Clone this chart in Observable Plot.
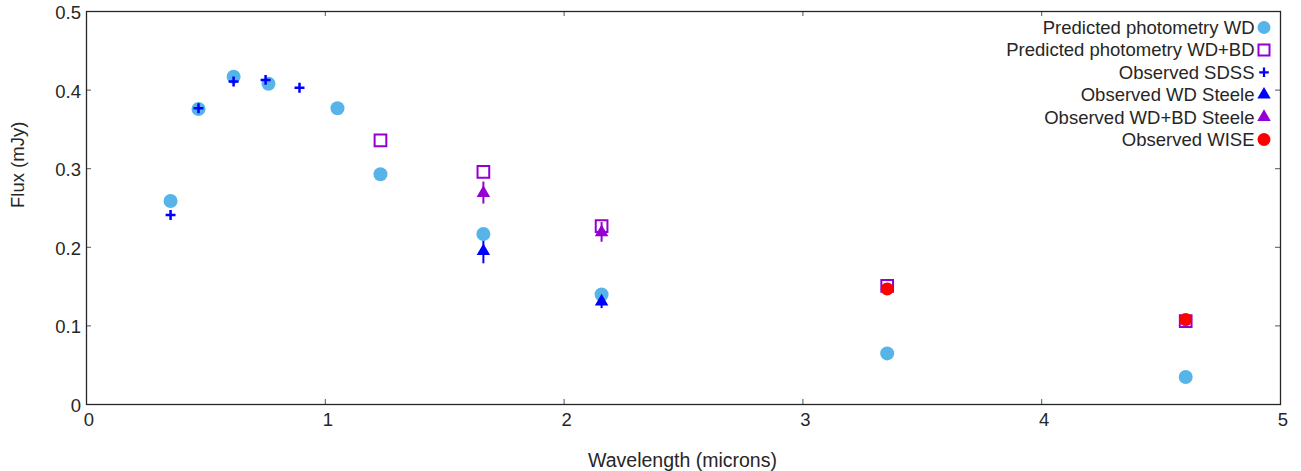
<!DOCTYPE html>
<html>
<head>
<meta charset="utf-8">
<script src="https://cdn.jsdelivr.net/npm/d3@7"></script>
<script src="https://cdn.jsdelivr.net/npm/@observablehq/plot@0.6"></script>
<style>
  html, body { margin: 0; padding: 0; background: #fff; }
  #chart { width: 1301px; height: 471px; }
</style>
</head>
<body>
<div id="chart"></div>
<script>
// ---- Data ----
const predWD_x   = [0.352, 0.469, 0.616, 0.762, 1.051, 1.231, 1.662, 2.157, 3.353, 4.603];
const predWD_y   = [0.259, 0.376, 0.417, 0.408, 0.377, 0.293, 0.217, 0.140, 0.065, 0.035];

const predWDBD_x = [1.231, 1.662, 2.157, 3.353, 4.603];
const predWDBD_y = [0.336, 0.296, 0.227, 0.151, 0.106];

const sdss_x     = [0.352, 0.469, 0.616, 0.750, 0.892];
const sdss_y     = [0.241, 0.377, 0.411, 0.413, 0.403];

const steeleWD_x   = [1.662, 2.157];
const steeleWD_y   = [0.195, 0.131];
const steeleWD_err = [0.016, 0.009];

const steeleWDBD_x   = [1.662, 2.157];
const steeleWDBD_y   = [0.269, 0.219];
const steeleWDBD_err = [0.014, 0.0125];

const wise_x     = [3.353, 4.603];
const wise_y     = [0.147, 0.108];

const xTicks = [0, 1, 2, 3, 4, 5];
const yTicks = [0, 0.1, 0.2, 0.3, 0.4, 0.5];

const legendLabels = [
  "Predicted photometry WD",
  "Predicted photometry WD+BD",
  "Observed SDSS",
  "Observed WD Steele",
  "Observed WD+BD Steele",
  "Observed WISE"
];

const xLabel = "Wavelength (microns)";
const yLabel = "Flux (mJy)";

// ---- Styles ----
const C_LIGHT = "#56B4E9";
const C_PURPLE = "#9400D3";
const C_BLUE = "#0000FF";
const C_RED = "#FF0000";
const INK = "#262626";

const zip = (xs, ys, es) => xs.map((x, i) => ({x, y: ys[i], e: es ? es[i] : 0}));
const predWD = zip(predWD_x, predWD_y);
const predWDBD = zip(predWDBD_x, predWDBD_y);
const sdss = zip(sdss_x, sdss_y);
const steeleWD = zip(steeleWD_x, steeleWD_y, steeleWD_err);
const steeleWDBD = zip(steeleWDBD_x, steeleWDBD_y, steeleWDBD_err);
const wise = zip(wise_x, wise_y);

const W = 1301, H = 471;
const mL = 86, mR = 21, mT = 11, mB = 67;
const plotW = W - mL - mR, plotH = H - mT - mB;
const TICK = 5;

// legend
const legendStyles = [
  {symbol: "circle", fill: C_LIGHT, r: 6.5},
  {symbol: "square", fill: "none", stroke: C_PURPLE, strokeWidth: 2, r: 6.2},
  {symbol: "plus", fill: "none", stroke: C_BLUE, strokeWidth: 2.3, r: 3.2},
  {symbol: "triangle", fill: C_BLUE, r: 5},
  {symbol: "triangle", fill: C_PURPLE, r: 5},
  {symbol: "circle", fill: C_RED, r: 6.5}
];
const legendMarks = [];
legendLabels.forEach((lab, i) => {
  const dy = 16.5 + i * 22.4;
  legendMarks.push(Plot.text([lab], {
    frameAnchor: "top-right", text: d => d, dx: -26, dy,
    textAnchor: "end", lineAnchor: "middle", fill: INK, fontSize: 18.5
  }));
  legendMarks.push(Plot.dot([lab], {
    frameAnchor: "top-right", dx: -16.5, dy: dy - 0.5, ...legendStyles[i]
  }));
});

const chart = Plot.plot({
  width: W, height: H,
  marginLeft: mL, marginRight: mR, marginTop: mT, marginBottom: mB,
  style: {fontFamily: "'Liberation Sans', Arial, sans-serif", fontSize: "18px", background: "#fff", color: INK},
  x: {domain: [0, 5]},
  y: {domain: [0, 0.5]},
  marks: [
    // axes labels (ticks drawn inward separately)
    Plot.axisX(xTicks, {tickSize: 0, tickPadding: 8, fontSize: 18.5, label: null, fill: INK, dx: 2.5, tickFormat: d => String(d)}),
    Plot.axisY(yTicks, {tickSize: 0, tickPadding: 5.5, fontSize: 18.5, label: null, fill: INK, dy: 1.5, tickFormat: d => String(d)}),
    // inward ticks on all four sides
    Plot.tickX(xTicks, {x: d => d, insetTop: plotH - TICK, stroke: "#555", strokeWidth: 1}),
    Plot.tickX(xTicks, {x: d => d, insetBottom: plotH - TICK, stroke: "#555", strokeWidth: 1}),
    Plot.tickY(yTicks, {y: d => d, insetLeft: plotW - TICK, stroke: "#555", strokeWidth: 1}),
    Plot.tickY(yTicks, {y: d => d, insetRight: plotW - TICK, stroke: "#555", strokeWidth: 1}),
    // error bars
    Plot.ruleX(steeleWD, {x: "x", y1: d => d.y - d.e, y2: d => d.y + d.e, stroke: C_BLUE, strokeWidth: 2}),
    Plot.ruleX(steeleWDBD, {x: "x", y1: d => d.y - d.e, y2: d => d.y + d.e, stroke: C_PURPLE, strokeWidth: 2}),
    // data
    Plot.dot(predWD, {x: "x", y: "y", r: 7, fill: C_LIGHT}),
    Plot.dot(predWDBD, {x: "x", y: "y", r: 6.6, symbol: "square", fill: "none", stroke: C_PURPLE, strokeWidth: 2}),
    Plot.dot(sdss, {x: "x", y: "y", r: 3.3, symbol: "plus", stroke: C_BLUE, strokeWidth: 2.5}),
    Plot.dot(steeleWD, {x: "x", y: "y", r: 5, symbol: "triangle", fill: C_BLUE}),
    Plot.dot(steeleWDBD, {x: "x", y: "y", r: 5, symbol: "triangle", fill: C_PURPLE}),
    Plot.dot(wise, {x: "x", y: "y", r: 6.5, fill: C_RED}),
    // frame
    Plot.frame({stroke: INK, strokeWidth: 1.3}),
    // axis titles
    Plot.text([xLabel], {frameAnchor: "bottom", text: d => d, dy: 56, dx: -1, lineAnchor: "middle", fill: INK, fontSize: 19.5}),
    Plot.text([yLabel], {frameAnchor: "left", text: d => d, dx: -68, rotate: -90, fill: INK, fontSize: 18.5}),
    ...legendMarks
  ]
});
document.getElementById("chart").appendChild(chart);
</script>
</body>
</html>
